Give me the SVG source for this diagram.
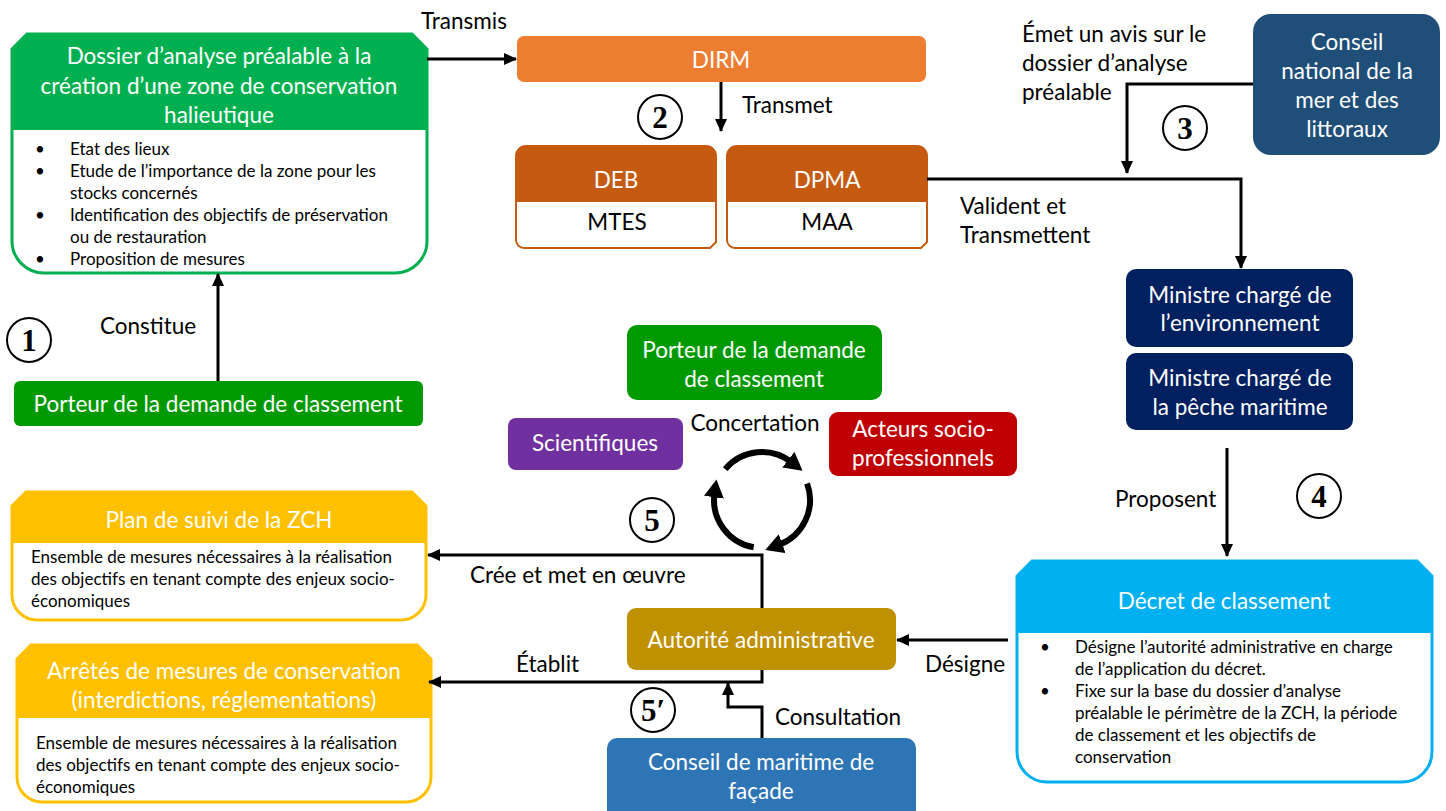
<svg xmlns="http://www.w3.org/2000/svg" width="1446" height="811" viewBox="0 0 1446 811">
<defs>
<marker id="ah" markerUnits="userSpaceOnUse" markerWidth="14" markerHeight="14" viewBox="0 0 14 14" refX="12" refY="7" orient="auto">
<path d="M0,1 L13,7 L0,13 Z" fill="#000"/>
</marker>
<marker id="ahc" markerUnits="userSpaceOnUse" markerWidth="20" markerHeight="20" viewBox="0 0 20 20" refX="4" refY="10" orient="auto">
<path d="M0,0 L18,10 L0,20 Z" fill="#000"/>
</marker>
</defs>
<style>
text{font-family:Lato,"Liberation Sans",sans-serif;}
.w{fill:#fff;font-size:22.5px;text-anchor:middle;}
.wl{fill:#fff;font-size:22.5px;text-anchor:middle;}
.b{fill:#000;font-size:22.5px;}
.bc{fill:#000;font-size:22.5px;text-anchor:middle;}
.s{fill:#000;font-size:17px;}
.num{font-family:"Liberation Serif",serif;font-size:31px;font-weight:bold;text-anchor:middle;fill:#000;}
.ring{fill:none;stroke:#000;stroke-width:2;}
.con{fill:none;stroke:#000;stroke-width:3;}
.cyc{fill:none;stroke:#000;stroke-width:6;}
</style>

<g id="dossier">
<path d="M27,34 H412 L427,49 V241 A32,32 0 0 1 395,273 H44 A32,32 0 0 1 12,241 V49 Z" fill="#fff" stroke="#00B050" stroke-width="3"/>
<path d="M27,34 H412 L427,49 V130 H12 V49 Z" fill="#00B050"/>
<text class="wl" x="219" y="64">Dossier d’analyse préalable à la</text>
<text class="wl" x="219" y="94">création d’une zone de conservation</text>
<text class="wl" x="219" y="123">halieutique</text>
<text class="s" x="35" y="155">•</text><text class="s" x="70" y="155">Etat des lieux</text>
<text class="s" x="35" y="177">•</text><text class="s" x="70" y="177">Etude de l’importance de la zone pour les</text>
<text class="s" x="70" y="199">stocks concernés</text>
<text class="s" x="35" y="221">•</text><text class="s" x="70" y="221">Identification des objectifs de préservation</text>
<text class="s" x="70" y="243">ou de restauration</text>
<text class="s" x="35" y="265">•</text><text class="s" x="70" y="265">Proposition de mesures</text>
</g>

<g id="porteur1">
<rect x="14" y="381" width="409" height="45" rx="6" fill="#009A00"/>
<text class="w" x="218" y="412">Porteur de la demande de classement</text>
</g>

<g id="dirm">
<rect x="517" y="36" width="409" height="46" rx="7" fill="#ED7D31"/>
<text class="w" x="721" y="68">DIRM</text>
</g>

<g id="deb">
<path d="M526,146 H706 A10,10 0 0 1 716,156 V242 L710,248 H524 A8,8 0 0 1 516,240 V156 A10,10 0 0 1 526,146 Z" fill="#fff" stroke="#C55A11" stroke-width="2"/>
<path d="M526,146 H706 A10,10 0 0 1 716,156 V202 H516 V156 A10,10 0 0 1 526,146 Z" fill="#C55A11"/>
<text class="w" x="616" y="188">DEB</text>
<text class="bc" x="617" y="230">MTES</text>
</g>

<g id="dpma">
<path d="M737,146 H917 A10,10 0 0 1 927,156 V242 L921,248 H735 A8,8 0 0 1 727,240 V156 A10,10 0 0 1 737,146 Z" fill="#fff" stroke="#C55A11" stroke-width="2"/>
<path d="M737,146 H917 A10,10 0 0 1 927,156 V202 H727 V156 A10,10 0 0 1 737,146 Z" fill="#C55A11"/>
<text class="w" x="827" y="188">DPMA</text>
<text class="bc" x="827" y="230">MAA</text>
</g>

<g id="cnml">
<rect x="1253" y="14" width="187" height="141" rx="18" fill="#1F4E79"/>
<text class="w" x="1347" y="50">Conseil</text>
<text class="w" x="1347" y="79">national de la</text>
<text class="w" x="1347" y="108">mer et des</text>
<text class="w" x="1347" y="137">littoraux</text>
</g>

<g id="ministre-env">
<rect x="1126" y="269" width="227" height="78" rx="10" fill="#002060"/>
<text class="w" x="1240" y="303">Ministre chargé de</text>
<text class="w" x="1240" y="331">l’environnement</text>
</g>

<g id="ministre-peche">
<rect x="1126" y="353" width="227" height="77" rx="10" fill="#002060"/>
<text class="w" x="1240" y="386">Ministre chargé de</text>
<text class="w" x="1240" y="415">la pêche maritime</text>
</g>

<g id="decret">
<path d="M1032,561 H1417 L1432,576 V752 A30,30 0 0 1 1402,782 H1047 A30,30 0 0 1 1017,752 V576 Z" fill="#fff" stroke="#00B0F0" stroke-width="3"/>
<path d="M1032,561 H1417 L1432,576 V633 H1017 V576 Z" fill="#00B0F0"/>
<text class="wl" x="1224" y="609">Décret de classement</text>
<text class="s" x="1040" y="653">•</text><text class="s" x="1075" y="653">Désigne l’autorité administrative en charge</text>
<text class="s" x="1075" y="675">de l’application du décret.</text>
<text class="s" x="1040" y="697">•</text><text class="s" x="1075" y="697">Fixe sur la base du dossier d’analyse</text>
<text class="s" x="1075" y="719">préalable le périmètre de la ZCH, la période</text>
<text class="s" x="1075" y="741">de classement et les objectifs de</text>
<text class="s" x="1075" y="763">conservation</text>
</g>

<g id="porteur2">
<rect x="627" y="325" width="255" height="75" rx="10" fill="#009A00"/>
<text class="w" x="754" y="358">Porteur de la demande</text>
<text class="w" x="754" y="387">de classement</text>
</g>

<g id="scientifiques">
<rect x="508" y="418" width="175" height="52" rx="8" fill="#7030A0"/>
<text class="w" x="595" y="451">Scientifiques</text>
</g>

<g id="acteurs">
<rect x="829" y="412" width="188" height="64" rx="9" fill="#C00000"/>
<text class="w" x="923" y="437">Acteurs socio-</text>
<text class="w" x="923" y="466">professionnels</text>
</g>

<g id="autorite">
<rect x="627" y="608" width="269" height="62" rx="9" fill="#BF9000"/>
<text class="w" x="761" y="648">Autorité administrative</text>
</g>

<g id="conseil-facade">
<rect x="607" y="738" width="309" height="90" rx="10" fill="#2E75B6"/>
<text class="w" x="761" y="770">Conseil de maritime de</text>
<text class="w" x="761" y="799">façade</text>
</g>

<g id="plan">
<path d="M26,492 H412 L426,506 V595 A25,25 0 0 1 401,620 H37 A25,25 0 0 1 12,595 V506 Z" fill="#fff" stroke="#FFC000" stroke-width="3"/>
<path d="M26,492 H412 L426,506 V543 H12 V506 Z" fill="#FFC000"/>
<text class="w" x="219" y="528">Plan de suivi de la ZCH</text>
<text class="s" x="31" y="563">Ensemble de mesures nécessaires à la réalisation</text>
<text class="s" x="31" y="585">des objectifs en tenant compte des enjeux socio-</text>
<text class="s" x="31" y="607">économiques</text>
</g>

<g id="arretes">
<path d="M31,645 H417 L431,659 V777 A25,25 0 0 1 406,802 H42 A25,25 0 0 1 17,777 V659 Z" fill="#fff" stroke="#FFC000" stroke-width="3"/>
<path d="M31,645 H417 L431,659 V718 H17 V659 Z" fill="#FFC000"/>
<text class="wl" x="224" y="679">Arrêtés de mesures de conservation</text>
<text class="wl" x="224" y="708">(interdictions, réglementations)</text>
<text class="s" x="36" y="749">Ensemble de mesures nécessaires à la réalisation</text>
<text class="s" x="36" y="771">des objectifs en tenant compte des enjeux socio-</text>
<text class="s" x="36" y="793">économiques</text>
</g>

<g id="steps">
<circle class="ring" cx="29" cy="340" r="22"/><text class="num" x="29" y="351">1</text>
<circle class="ring" cx="660" cy="117" r="22"/><text class="num" x="660" y="128">2</text>
<circle class="ring" cx="1185" cy="128" r="22"/><text class="num" x="1185" y="139">3</text>
<circle class="ring" cx="1319" cy="496" r="22"/><text class="num" x="1319" y="507">4</text>
<circle class="ring" cx="652" cy="520" r="22"/><text class="num" x="652" y="531">5</text>
<circle class="ring" cx="653" cy="710" r="22"/><text class="num" x="653" y="721">5′</text>
</g>

<g id="connectors">
<line class="con" x1="427" y1="59" x2="516" y2="59" marker-end="url(#ah)"/>
<line class="con" x1="721" y1="82" x2="721" y2="131" marker-end="url(#ah)"/>
<polyline class="con" points="927,179 1241,179 1241,268" marker-end="url(#ah)"/>
<polyline class="con" points="1253,84 1127,84 1127,173" marker-end="url(#ah)"/>
<line class="con" x1="218" y1="381" x2="218" y2="274" marker-end="url(#ah)"/>
<line class="con" x1="1227" y1="448" x2="1227" y2="556" marker-end="url(#ah)"/>
<line class="con" x1="1008" y1="640" x2="897" y2="640" marker-end="url(#ah)"/>
<polyline class="con" points="762,608 762,555 428,555" marker-end="url(#ah)"/>
<polyline class="con" points="762,670 762,682 429,682" marker-end="url(#ah)"/>
<polyline class="con" points="762,738 762,707 728,707 728,683" marker-end="url(#ah)"/>
<path class="cyc" d="M725.2,469.1 A48,48 0 0 1 791.5,462.2" marker-end="url(#ahc)"/>
<path class="cyc" d="M807.1,483.6 A48,48 0 0 1 778.4,545.1" marker-end="url(#ahc)"/>
<path class="cyc" d="M753.7,547.3 A48,48 0 0 1 714.5,493.3" marker-end="url(#ahc)"/>
<text class="b" x="421" y="29">Transmis</text>
<text class="b" x="742" y="113">Transmet</text>
<text class="b" x="1022" y="42">Émet un avis sur le</text>
<text class="b" x="1022" y="71">dossier d’analyse</text>
<text class="b" x="1022" y="100">préalable</text>
<text class="b" x="960" y="214">Valident et</text>
<text class="b" x="960" y="243">Transmettent</text>
<text class="b" x="100" y="334">Constitue</text>
<text class="b" x="1115" y="507">Proposent</text>
<text class="b" x="925" y="672">Désigne</text>
<text class="b" x="516" y="672">Établit</text>
<text class="b" x="775" y="725">Consultation</text>
<text class="b" x="470" y="583">Crée et met en œuvre</text>
<text class="bc" x="755" y="431">Concertation</text>
</g>
</svg>
